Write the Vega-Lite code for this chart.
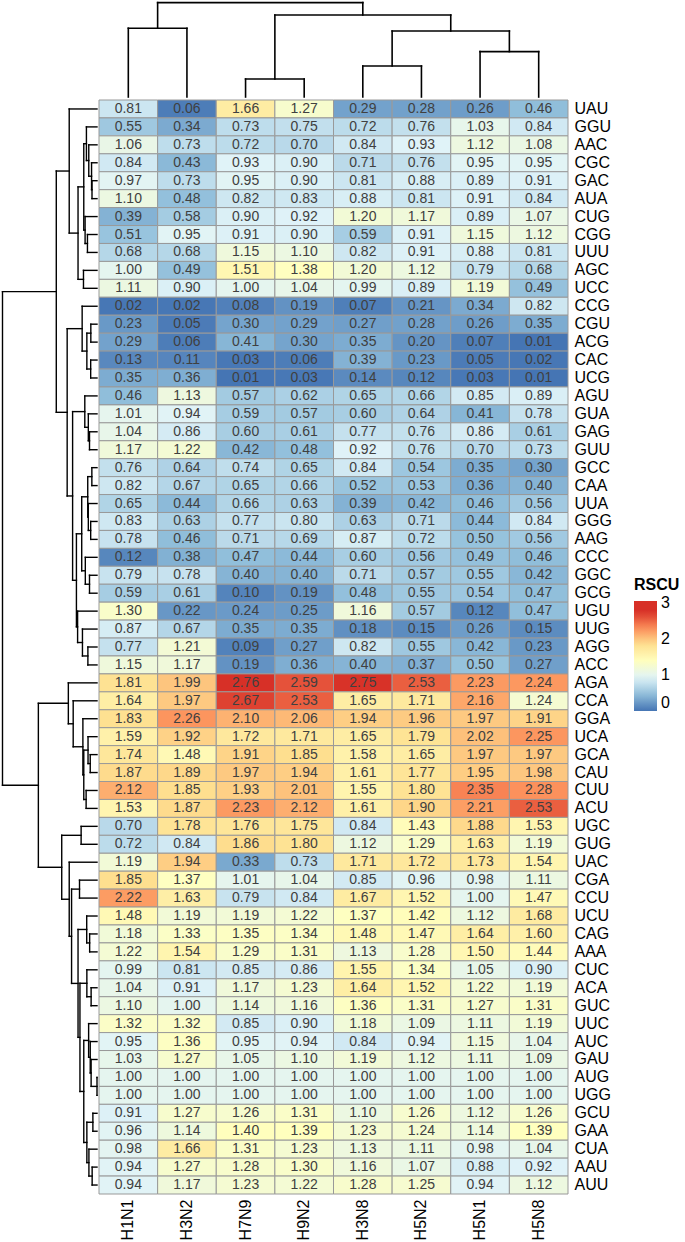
{
  "$schema": "https://vega.github.io/schema/vega-lite/v6.json",
  "padding": 0,
  "background": "white",
  "spacing": 0,
  "config": {"view": {"stroke": null}, "font": "Liberation Sans"},
  "vconcat": [
    {
      "bounds": "flush",
      "spacing": 2,
      "hconcat": [
        {
          "width": 97, "height": 97,
          "data": {"values": [{"blank": 0}]},
          "mark": {"type": "text", "opacity": 0},
          "encoding": {"text": {"value": ""}}
        },
        {
          "width": 469, "height": 97,
          "data": {"values": [
            {"node": "a", "h": 3.44, "p1": 0, "h1": 0, "p2": 1, "h2": 0},
            {"node": "b", "h": 0.90, "p1": 2, "h1": 0, "p2": 3, "h2": 0},
            {"node": "c", "h": 1.55, "p1": 4, "h1": 0, "p2": 5, "h2": 0},
            {"node": "d", "h": 2.27, "p1": 6, "h1": 0, "p2": 7, "h2": 0},
            {"node": "e", "h": 3.30, "p1": 4.5, "h1": 1.55, "p2": 6.5, "h2": 2.27},
            {"node": "f", "h": 4.10, "p1": 2.5, "h1": 0.90, "p2": 5.5, "h2": 3.30},
            {"node": "root", "h": 4.72, "p1": 0.5, "h1": 3.44, "p2": 4.0, "h2": 4.10}
          ]},
          "layer": [
            {
              "mark": {"type": "rule", "color": "#000000", "strokeWidth": 1.6, "strokeCap": "square"},
              "encoding": {
                "x": {"field": "p1", "type": "quantitative", "scale": {"domain": [-0.5, 7.5], "nice": false, "zero": false}, "axis": null},
                "y": {"field": "h1", "type": "quantitative", "scale": {"domain": [0, 4.85], "nice": false}, "axis": null},
                "y2": {"field": "h"}
              }
            },
            {
              "mark": {"type": "rule", "color": "#000000", "strokeWidth": 1.6, "strokeCap": "square"},
              "encoding": {
                "x": {"field": "p2", "type": "quantitative", "scale": {"domain": [-0.5, 7.5], "nice": false, "zero": false}, "axis": null},
                "y": {"field": "h2", "type": "quantitative", "scale": {"domain": [0, 4.85], "nice": false}, "axis": null},
                "y2": {"field": "h"}
              }
            },
            {
              "mark": {"type": "rule", "color": "#000000", "strokeWidth": 1.6, "strokeCap": "square"},
              "encoding": {
                "x": {"field": "p1", "type": "quantitative", "scale": {"domain": [-0.5, 7.5], "nice": false, "zero": false}, "axis": null},
                "x2": {"field": "p2"},
                "y": {"field": "h", "type": "quantitative", "scale": {"domain": [0, 4.85], "nice": false}, "axis": null}
              }
            }
          ]
        }
      ]
    },
    {
      "bounds": "flush",
      "spacing": 2,
      "hconcat": [
        {
          "width": 97, "height": 1094,
          "data": {"values": [
            {"h": 0.34, "p1": 4, "h1": 0, "p2": 5, "h2": 0},
            {"h": 0.37, "p1": 3, "h1": 0, "p2": 4.5, "h2": 0.34},
            {"h": 0.56, "p1": 2, "h1": 0, "p2": 3.75, "h2": 0.37},
            {"h": 0.72, "p1": 1, "h1": 0, "p2": 2.875, "h2": 0.56},
            {"h": 0.65, "p1": 7, "h1": 0, "p2": 8, "h2": 0},
            {"h": 0.81, "p1": 6, "h1": 0, "p2": 7.5, "h2": 0.65},
            {"h": 0.90, "p1": 1.9375, "h1": 0.72, "p2": 6.75, "h2": 0.81},
            {"h": 0.92, "p1": 9, "h1": 0, "p2": 10, "h2": 0},
            {"h": 1.29, "p1": 4.3438, "h1": 0.90, "p2": 9.5, "h2": 0.92},
            {"h": 1.89, "p1": 0, "h1": 0, "p2": 6.9219, "h2": 1.29},
            {"h": 0.42, "p1": 12, "h1": 0, "p2": 13, "h2": 0},
            {"h": 0.43, "p1": 14, "h1": 0, "p2": 15, "h2": 0},
            {"h": 0.69, "p1": 12.5, "h1": 0.42, "p2": 14.5, "h2": 0.43},
            {"h": 1.01, "p1": 11, "h1": 0, "p2": 13.5, "h2": 0.69},
            {"h": 0.51, "p1": 18, "h1": 0, "p2": 19, "h2": 0},
            {"h": 0.59, "p1": 17, "h1": 0, "p2": 18.5, "h2": 0.51},
            {"h": 0.83, "p1": 16, "h1": 0, "p2": 17.75, "h2": 0.59},
            {"h": 0.35, "p1": 20, "h1": 0, "p2": 21, "h2": 0},
            {"h": 0.43, "p1": 23, "h1": 0, "p2": 24, "h2": 0},
            {"h": 0.59, "p1": 22, "h1": 0, "p2": 23.5, "h2": 0.43},
            {"h": 0.63, "p1": 20.5, "h1": 0.35, "p2": 22.75, "h2": 0.59},
            {"h": 0.51, "p1": 26, "h1": 0, "p2": 27, "h2": 0},
            {"h": 0.795, "p1": 25, "h1": 0, "p2": 26.5, "h2": 0.51},
            {"h": 1.04, "p1": 21.625, "h1": 0.63, "p2": 25.75, "h2": 0.795},
            {"h": 0.62, "p1": 30, "h1": 0, "p2": 31, "h2": 0},
            {"h": 0.99, "p1": 29, "h1": 0, "p2": 30.5, "h2": 0.62},
            {"h": 1.32, "p1": 28, "h1": 0, "p2": 29.75, "h2": 0.99},
            {"h": 1.40, "p1": 23.6875, "h1": 1.04, "p2": 28.875, "h2": 1.32},
            {"h": 1.66, "p1": 16.875, "h1": 0.83, "p2": 26.2813, "h2": 1.40},
            {"h": 2.03, "p1": 12.25, "h1": 1.01, "p2": 21.5781, "h2": 1.66},
            {"h": 2.77, "p1": 3.4609, "h1": 1.89, "p2": 16.9141, "h2": 2.03},
            {"h": 0.46, "p1": 36, "h1": 0, "p2": 37, "h2": 0},
            {"h": 0.61, "p1": 35, "h1": 0, "p2": 36.5, "h2": 0.46},
            {"h": 0.74, "p1": 38, "h1": 0, "p2": 39, "h2": 0},
            {"h": 0.90, "p1": 35.75, "h1": 0.61, "p2": 38.5, "h2": 0.74},
            {"h": 0.96, "p1": 34, "h1": 0, "p2": 37.125, "h2": 0.90},
            {"h": 1.62, "p1": 33, "h1": 0, "p2": 35.5625, "h2": 0.96},
            {"h": 1.95, "p1": 32, "h1": 0, "p2": 34.2813, "h2": 1.62},
            {"h": 1.08, "p1": 40, "h1": 0, "p2": 41, "h2": 0},
            {"h": 0.50, "p1": 46, "h1": 0, "p2": 47, "h2": 0},
            {"h": 0.70, "p1": 45, "h1": 0, "p2": 46.5, "h2": 0.50},
            {"h": 0.40, "p1": 49, "h1": 0, "p2": 50, "h2": 0},
            {"h": 0.69, "p1": 48, "h1": 0, "p2": 49.5, "h2": 0.40},
            {"h": 0.0, "p1": 54, "h1": 0, "p2": 55, "h2": 0},
            {"h": 0.40, "p1": 53, "h1": 0, "p2": 54.5, "h2": 0},
            {"h": 0.46, "p1": 52, "h1": 0, "p2": 53.75, "h2": 0.40},
            {"h": 0.57, "p1": 51, "h1": 0, "p2": 52.875, "h2": 0.46},
            {"h": 0.28, "p1": 56, "h1": 0, "p2": 57, "h2": 0},
            {"h": 0.33, "p1": 59, "h1": 0, "p2": 60, "h2": 0},
            {"h": 0.55, "p1": 58, "h1": 0, "p2": 59.5, "h2": 0.33},
            {"h": 0.69, "p1": 56.5, "h1": 0.28, "p2": 58.75, "h2": 0.55},
            {"h": 0.90, "p1": 51.9375, "h1": 0.57, "p2": 57.625, "h2": 0.69},
            {"h": 1.16, "p1": 48.75, "h1": 0.69, "p2": 54.7813, "h2": 0.90},
            {"h": 1.29, "p1": 45.75, "h1": 0.70, "p2": 51.7656, "h2": 1.16},
            {"h": 1.19, "p1": 43, "h1": 0, "p2": 44, "h2": 0},
            {"h": 1.73, "p1": 43.5, "h1": 1.19, "p2": 48.7578, "h2": 1.29},
            {"h": 1.89, "p1": 42, "h1": 0, "p2": 46.1289, "h2": 1.73},
            {"h": 2.40, "p1": 40.5, "h1": 1.08, "p2": 44.0645, "h2": 1.89},
            {"h": 3.99, "p1": 33.1406, "h1": 1.95, "p2": 42.2822, "h2": 2.40},
            {"h": 6.43, "p1": 10.1875, "h1": 2.77, "p2": 37.7114, "h2": 3.99}
          ]},
          "layer": [
            {
              "mark": {"type": "rule", "color": "#000000", "strokeWidth": 1.4, "strokeCap": "square"},
              "encoding": {
                "x": {"field": "h1", "type": "quantitative", "scale": {"domain": [0, 6.6], "reverse": true, "nice": false}, "axis": null},
                "x2": {"field": "h"},
                "y": {"field": "p1", "type": "quantitative", "scale": {"domain": [-0.5, 60.5], "reverse": true, "nice": false, "zero": false}, "axis": null}
              }
            },
            {
              "mark": {"type": "rule", "color": "#000000", "strokeWidth": 1.4, "strokeCap": "square"},
              "encoding": {
                "x": {"field": "h2", "type": "quantitative", "scale": {"domain": [0, 6.6], "reverse": true, "nice": false}, "axis": null},
                "x2": {"field": "h"},
                "y": {"field": "p2", "type": "quantitative", "scale": {"domain": [-0.5, 60.5], "reverse": true, "nice": false, "zero": false}, "axis": null}
              }
            },
            {
              "mark": {"type": "rule", "color": "#000000", "strokeWidth": 1.4, "strokeCap": "square"},
              "encoding": {
                "x": {"field": "h", "type": "quantitative", "scale": {"domain": [0, 6.6], "reverse": true, "nice": false}, "axis": null},
                "y": {"field": "p1", "type": "quantitative", "scale": {"domain": [-0.5, 60.5], "reverse": true, "nice": false, "zero": false}, "axis": null},
                "y2": {"field": "p2"}
              }
            }
          ]
        },
        {
          "width": 469, "height": 1094,
          "data": {"values": [
            {"codon": "UAU", "H1N1": 0.81, "H3N2": 0.06, "H7N9": 1.66, "H9N2": 1.27, "H3N8": 0.29, "H5N2": 0.28, "H5N1": 0.26, "H5N8": 0.46},
            {"codon": "GGU", "H1N1": 0.55, "H3N2": 0.34, "H7N9": 0.73, "H9N2": 0.75, "H3N8": 0.72, "H5N2": 0.76, "H5N1": 1.03, "H5N8": 0.84},
            {"codon": "AAC", "H1N1": 1.06, "H3N2": 0.73, "H7N9": 0.72, "H9N2": 0.70, "H3N8": 0.84, "H5N2": 0.93, "H5N1": 1.12, "H5N8": 1.08},
            {"codon": "CGC", "H1N1": 0.84, "H3N2": 0.43, "H7N9": 0.93, "H9N2": 0.90, "H3N8": 0.71, "H5N2": 0.76, "H5N1": 0.95, "H5N8": 0.95},
            {"codon": "GAC", "H1N1": 0.97, "H3N2": 0.73, "H7N9": 0.95, "H9N2": 0.90, "H3N8": 0.81, "H5N2": 0.88, "H5N1": 0.89, "H5N8": 0.91},
            {"codon": "AUA", "H1N1": 1.10, "H3N2": 0.48, "H7N9": 0.82, "H9N2": 0.83, "H3N8": 0.88, "H5N2": 0.81, "H5N1": 0.91, "H5N8": 0.84},
            {"codon": "CUG", "H1N1": 0.39, "H3N2": 0.58, "H7N9": 0.90, "H9N2": 0.92, "H3N8": 1.20, "H5N2": 1.17, "H5N1": 0.89, "H5N8": 1.07},
            {"codon": "CGG", "H1N1": 0.51, "H3N2": 0.95, "H7N9": 0.91, "H9N2": 0.90, "H3N8": 0.59, "H5N2": 0.91, "H5N1": 1.15, "H5N8": 1.12},
            {"codon": "UUU", "H1N1": 0.68, "H3N2": 0.68, "H7N9": 1.15, "H9N2": 1.10, "H3N8": 0.82, "H5N2": 0.91, "H5N1": 0.88, "H5N8": 0.81},
            {"codon": "AGC", "H1N1": 1.00, "H3N2": 0.49, "H7N9": 1.51, "H9N2": 1.38, "H3N8": 1.20, "H5N2": 1.12, "H5N1": 0.79, "H5N8": 0.68},
            {"codon": "UCC", "H1N1": 1.11, "H3N2": 0.90, "H7N9": 1.00, "H9N2": 1.04, "H3N8": 0.99, "H5N2": 0.89, "H5N1": 1.19, "H5N8": 0.49},
            {"codon": "CCG", "H1N1": 0.02, "H3N2": 0.02, "H7N9": 0.08, "H9N2": 0.19, "H3N8": 0.07, "H5N2": 0.21, "H5N1": 0.34, "H5N8": 0.82},
            {"codon": "CGU", "H1N1": 0.23, "H3N2": 0.05, "H7N9": 0.30, "H9N2": 0.29, "H3N8": 0.27, "H5N2": 0.28, "H5N1": 0.26, "H5N8": 0.35},
            {"codon": "ACG", "H1N1": 0.29, "H3N2": 0.06, "H7N9": 0.41, "H9N2": 0.30, "H3N8": 0.35, "H5N2": 0.20, "H5N1": 0.07, "H5N8": 0.01},
            {"codon": "CAC", "H1N1": 0.13, "H3N2": 0.11, "H7N9": 0.03, "H9N2": 0.06, "H3N8": 0.39, "H5N2": 0.23, "H5N1": 0.05, "H5N8": 0.02},
            {"codon": "UCG", "H1N1": 0.35, "H3N2": 0.36, "H7N9": 0.01, "H9N2": 0.03, "H3N8": 0.14, "H5N2": 0.12, "H5N1": 0.03, "H5N8": 0.01},
            {"codon": "AGU", "H1N1": 0.46, "H3N2": 1.13, "H7N9": 0.57, "H9N2": 0.62, "H3N8": 0.65, "H5N2": 0.66, "H5N1": 0.85, "H5N8": 0.89},
            {"codon": "GUA", "H1N1": 1.01, "H3N2": 0.94, "H7N9": 0.59, "H9N2": 0.57, "H3N8": 0.60, "H5N2": 0.64, "H5N1": 0.41, "H5N8": 0.78},
            {"codon": "GAG", "H1N1": 1.04, "H3N2": 0.86, "H7N9": 0.60, "H9N2": 0.61, "H3N8": 0.77, "H5N2": 0.76, "H5N1": 0.86, "H5N8": 0.61},
            {"codon": "GUU", "H1N1": 1.17, "H3N2": 1.22, "H7N9": 0.42, "H9N2": 0.48, "H3N8": 0.92, "H5N2": 0.76, "H5N1": 0.70, "H5N8": 0.73},
            {"codon": "GCC", "H1N1": 0.76, "H3N2": 0.64, "H7N9": 0.74, "H9N2": 0.65, "H3N8": 0.84, "H5N2": 0.54, "H5N1": 0.35, "H5N8": 0.30},
            {"codon": "CAA", "H1N1": 0.82, "H3N2": 0.67, "H7N9": 0.65, "H9N2": 0.66, "H3N8": 0.52, "H5N2": 0.53, "H5N1": 0.36, "H5N8": 0.40},
            {"codon": "UUA", "H1N1": 0.65, "H3N2": 0.44, "H7N9": 0.66, "H9N2": 0.63, "H3N8": 0.39, "H5N2": 0.42, "H5N1": 0.46, "H5N8": 0.56},
            {"codon": "GGG", "H1N1": 0.83, "H3N2": 0.63, "H7N9": 0.77, "H9N2": 0.80, "H3N8": 0.63, "H5N2": 0.71, "H5N1": 0.44, "H5N8": 0.84},
            {"codon": "AAG", "H1N1": 0.78, "H3N2": 0.46, "H7N9": 0.71, "H9N2": 0.69, "H3N8": 0.87, "H5N2": 0.72, "H5N1": 0.50, "H5N8": 0.56},
            {"codon": "CCC", "H1N1": 0.12, "H3N2": 0.38, "H7N9": 0.47, "H9N2": 0.44, "H3N8": 0.60, "H5N2": 0.56, "H5N1": 0.49, "H5N8": 0.46},
            {"codon": "GGC", "H1N1": 0.79, "H3N2": 0.78, "H7N9": 0.40, "H9N2": 0.40, "H3N8": 0.71, "H5N2": 0.57, "H5N1": 0.55, "H5N8": 0.42},
            {"codon": "GCG", "H1N1": 0.59, "H3N2": 0.61, "H7N9": 0.10, "H9N2": 0.19, "H3N8": 0.48, "H5N2": 0.55, "H5N1": 0.54, "H5N8": 0.47},
            {"codon": "UGU", "H1N1": 1.30, "H3N2": 0.22, "H7N9": 0.24, "H9N2": 0.25, "H3N8": 1.16, "H5N2": 0.57, "H5N1": 0.12, "H5N8": 0.47},
            {"codon": "UUG", "H1N1": 0.87, "H3N2": 0.67, "H7N9": 0.35, "H9N2": 0.35, "H3N8": 0.18, "H5N2": 0.15, "H5N1": 0.26, "H5N8": 0.15},
            {"codon": "AGG", "H1N1": 0.77, "H3N2": 1.21, "H7N9": 0.09, "H9N2": 0.27, "H3N8": 0.82, "H5N2": 0.55, "H5N1": 0.42, "H5N8": 0.23},
            {"codon": "ACC", "H1N1": 1.15, "H3N2": 1.17, "H7N9": 0.19, "H9N2": 0.36, "H3N8": 0.40, "H5N2": 0.37, "H5N1": 0.50, "H5N8": 0.27},
            {"codon": "AGA", "H1N1": 1.81, "H3N2": 1.99, "H7N9": 2.76, "H9N2": 2.59, "H3N8": 2.75, "H5N2": 2.53, "H5N1": 2.23, "H5N8": 2.24},
            {"codon": "CCA", "H1N1": 1.64, "H3N2": 1.97, "H7N9": 2.67, "H9N2": 2.53, "H3N8": 1.65, "H5N2": 1.71, "H5N1": 2.16, "H5N8": 1.24},
            {"codon": "GGA", "H1N1": 1.83, "H3N2": 2.26, "H7N9": 2.10, "H9N2": 2.06, "H3N8": 1.94, "H5N2": 1.96, "H5N1": 1.97, "H5N8": 1.91},
            {"codon": "UCA", "H1N1": 1.59, "H3N2": 1.92, "H7N9": 1.72, "H9N2": 1.71, "H3N8": 1.65, "H5N2": 1.79, "H5N1": 2.02, "H5N8": 2.25},
            {"codon": "GCA", "H1N1": 1.74, "H3N2": 1.48, "H7N9": 1.91, "H9N2": 1.85, "H3N8": 1.58, "H5N2": 1.65, "H5N1": 1.97, "H5N8": 1.97},
            {"codon": "CAU", "H1N1": 1.87, "H3N2": 1.89, "H7N9": 1.97, "H9N2": 1.94, "H3N8": 1.61, "H5N2": 1.77, "H5N1": 1.95, "H5N8": 1.98},
            {"codon": "CUU", "H1N1": 2.12, "H3N2": 1.85, "H7N9": 1.93, "H9N2": 2.01, "H3N8": 1.55, "H5N2": 1.80, "H5N1": 2.35, "H5N8": 2.28},
            {"codon": "ACU", "H1N1": 1.53, "H3N2": 1.87, "H7N9": 2.23, "H9N2": 2.12, "H3N8": 1.61, "H5N2": 1.90, "H5N1": 2.21, "H5N8": 2.53},
            {"codon": "UGC", "H1N1": 0.70, "H3N2": 1.78, "H7N9": 1.76, "H9N2": 1.75, "H3N8": 0.84, "H5N2": 1.43, "H5N1": 1.88, "H5N8": 1.53},
            {"codon": "GUG", "H1N1": 0.72, "H3N2": 0.84, "H7N9": 1.86, "H9N2": 1.80, "H3N8": 1.12, "H5N2": 1.29, "H5N1": 1.63, "H5N8": 1.19},
            {"codon": "UAC", "H1N1": 1.19, "H3N2": 1.94, "H7N9": 0.33, "H9N2": 0.73, "H3N8": 1.71, "H5N2": 1.72, "H5N1": 1.73, "H5N8": 1.54},
            {"codon": "CGA", "H1N1": 1.85, "H3N2": 1.37, "H7N9": 1.01, "H9N2": 1.04, "H3N8": 0.85, "H5N2": 0.96, "H5N1": 0.98, "H5N8": 1.11},
            {"codon": "CCU", "H1N1": 2.22, "H3N2": 1.63, "H7N9": 0.79, "H9N2": 0.84, "H3N8": 1.67, "H5N2": 1.52, "H5N1": 1.00, "H5N8": 1.47},
            {"codon": "UCU", "H1N1": 1.48, "H3N2": 1.19, "H7N9": 1.19, "H9N2": 1.22, "H3N8": 1.37, "H5N2": 1.42, "H5N1": 1.12, "H5N8": 1.68},
            {"codon": "CAG", "H1N1": 1.18, "H3N2": 1.33, "H7N9": 1.35, "H9N2": 1.34, "H3N8": 1.48, "H5N2": 1.47, "H5N1": 1.64, "H5N8": 1.60},
            {"codon": "AAA", "H1N1": 1.22, "H3N2": 1.54, "H7N9": 1.29, "H9N2": 1.31, "H3N8": 1.13, "H5N2": 1.28, "H5N1": 1.50, "H5N8": 1.44},
            {"codon": "CUC", "H1N1": 0.99, "H3N2": 0.81, "H7N9": 0.85, "H9N2": 0.86, "H3N8": 1.55, "H5N2": 1.34, "H5N1": 1.05, "H5N8": 0.90},
            {"codon": "ACA", "H1N1": 1.04, "H3N2": 0.91, "H7N9": 1.17, "H9N2": 1.23, "H3N8": 1.64, "H5N2": 1.52, "H5N1": 1.22, "H5N8": 1.19},
            {"codon": "GUC", "H1N1": 1.10, "H3N2": 1.00, "H7N9": 1.14, "H9N2": 1.16, "H3N8": 1.36, "H5N2": 1.31, "H5N1": 1.27, "H5N8": 1.31},
            {"codon": "UUC", "H1N1": 1.32, "H3N2": 1.32, "H7N9": 0.85, "H9N2": 0.90, "H3N8": 1.18, "H5N2": 1.09, "H5N1": 1.11, "H5N8": 1.19},
            {"codon": "AUC", "H1N1": 0.95, "H3N2": 1.36, "H7N9": 0.95, "H9N2": 0.94, "H3N8": 0.84, "H5N2": 0.94, "H5N1": 1.15, "H5N8": 1.04},
            {"codon": "GAU", "H1N1": 1.03, "H3N2": 1.27, "H7N9": 1.05, "H9N2": 1.10, "H3N8": 1.19, "H5N2": 1.12, "H5N1": 1.11, "H5N8": 1.09},
            {"codon": "AUG", "H1N1": 1.00, "H3N2": 1.00, "H7N9": 1.00, "H9N2": 1.00, "H3N8": 1.00, "H5N2": 1.00, "H5N1": 1.00, "H5N8": 1.00},
            {"codon": "UGG", "H1N1": 1.00, "H3N2": 1.00, "H7N9": 1.00, "H9N2": 1.00, "H3N8": 1.00, "H5N2": 1.00, "H5N1": 1.00, "H5N8": 1.00},
            {"codon": "GCU", "H1N1": 0.91, "H3N2": 1.27, "H7N9": 1.26, "H9N2": 1.31, "H3N8": 1.10, "H5N2": 1.26, "H5N1": 1.12, "H5N8": 1.26},
            {"codon": "GAA", "H1N1": 0.96, "H3N2": 1.14, "H7N9": 1.40, "H9N2": 1.39, "H3N8": 1.23, "H5N2": 1.24, "H5N1": 1.14, "H5N8": 1.39},
            {"codon": "CUA", "H1N1": 0.98, "H3N2": 1.66, "H7N9": 1.31, "H9N2": 1.23, "H3N8": 1.13, "H5N2": 1.11, "H5N1": 0.98, "H5N8": 1.04},
            {"codon": "AAU", "H1N1": 0.94, "H3N2": 1.27, "H7N9": 1.28, "H9N2": 1.30, "H3N8": 1.16, "H5N2": 1.07, "H5N1": 0.88, "H5N8": 0.92},
            {"codon": "AUU", "H1N1": 0.94, "H3N2": 1.17, "H7N9": 1.23, "H9N2": 1.22, "H3N8": 1.28, "H5N2": 1.25, "H5N1": 0.94, "H5N8": 1.12}
          ]},
          "transform": [
            {"fold": ["H1N1", "H3N2", "H7N9", "H9N2", "H3N8", "H5N2", "H5N1", "H5N8"], "as": ["strain", "rscu"]}
          ],
          "encoding": {
            "x": {
              "field": "strain", "type": "nominal",
              "sort": ["H1N1", "H3N2", "H7N9", "H9N2", "H3N8", "H5N2", "H5N1", "H5N8"],
              "scale": {"paddingInner": 0, "paddingOuter": 0},
              "axis": {"orient": "bottom", "title": null, "labelAngle": -90, "labelAlign": "right", "labelBaseline": "middle", "labelFontSize": 16, "labelColor": "#000000", "labelFont": "Liberation Sans", "ticks": false, "tickSize": 0, "domain": false, "labelPadding": 5}
            },
            "y": {
              "field": "codon", "type": "nominal",
              "sort": ["UAU", "GGU", "AAC", "CGC", "GAC", "AUA", "CUG", "CGG", "UUU", "AGC", "UCC", "CCG", "CGU", "ACG", "CAC", "UCG", "AGU", "GUA", "GAG", "GUU", "GCC", "CAA", "UUA", "GGG", "AAG", "CCC", "GGC", "GCG", "UGU", "UUG", "AGG", "ACC", "AGA", "CCA", "GGA", "UCA", "GCA", "CAU", "CUU", "ACU", "UGC", "GUG", "UAC", "CGA", "CCU", "UCU", "CAG", "AAA", "CUC", "ACA", "GUC", "UUC", "AUC", "GAU", "AUG", "UGG", "GCU", "GAA", "CUA", "AAU", "AUU"],
              "scale": {"paddingInner": 0, "paddingOuter": 0},
              "axis": {"orient": "right", "title": null, "labelFontSize": 16, "labelColor": "#000000", "labelFont": "Liberation Sans", "ticks": false, "tickSize": 0, "domain": false, "labelPadding": 6}
            }
          },
          "layer": [
            {
              "mark": {"type": "rect", "stroke": "#999999", "strokeWidth": 1},
              "encoding": {
                "color": {
                  "field": "rscu", "type": "quantitative",
                  "scale": {
                    "type": "linear",
                    "domain": [0, 0.01, 0.4683, 0.9267, 1.385, 1.8433, 2.3017, 2.76, 3.05],
                    "range": ["#4575B4", "#4575B4", "#91BFDB", "#E0F3F8", "#FFFFBF", "#FEE090", "#FC8D59", "#D73027", "#D73027"],
                    "interpolate": "rgb"
                  },
                  "legend": {
                    "title": "RSCU", "orient": "none", "legendX": 634, "legendY": 577, "direction": "vertical",
                    "gradientLength": 110, "gradientThickness": 23, "gradientStrokeWidth": 0,
                    "values": [0, 1, 2, 3],
                    "labelFontSize": 16, "labelColor": "#000000", "labelFont": "Liberation Sans", "labelOffset": 4,
                    "titleFontSize": 16, "titleFontWeight": "bold", "titleColor": "#000000", "titleFont": "Liberation Sans", "titlePadding": 8
                  }
                }
              }
            },
            {
              "mark": {"type": "text", "fontSize": 14, "color": "#404040", "font": "Liberation Sans"},
              "encoding": {
                "text": {"field": "rscu", "type": "quantitative", "format": ".2f"}
              }
            }
          ]
        }
      ]
    }
  ]
}
